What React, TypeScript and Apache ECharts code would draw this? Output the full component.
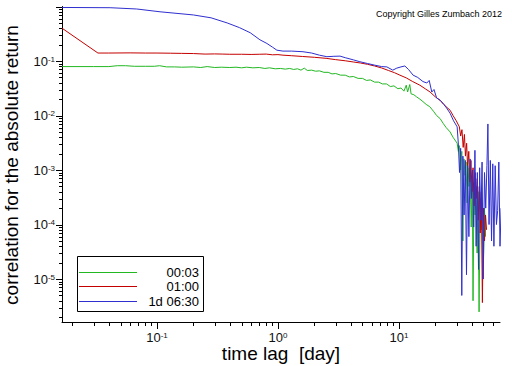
import React, { useEffect, useRef } from 'react';
import * as echarts from 'echarts';

// Axis ranges (time lag in days, correlation)
const xMin = 0.0164;
const xMax = 68.5;
const yMin = 1.63e-6;
const yMax = 1;

const xMajorTicks = [0.1, 1, 10];
const xMinorTicks = [0.02, 0.03, 0.04, 0.05, 0.06, 0.07, 0.08, 0.09, 0.2, 0.3, 0.4, 0.5, 0.6, 0.7, 0.8, 0.9, 2, 3, 4, 5, 6, 7, 8, 9, 20, 30, 40, 50, 60];
const yMajorTicks = [1e-5, 1e-4, 1e-3, 1e-2, 1e-1, 1];
const yMinorTicks = [
  2e-6, 3e-6, 4e-6, 5e-6, 6e-6, 7e-6, 8e-6, 9e-6,
  2e-5, 3e-5, 4e-5, 5e-5, 6e-5, 7e-5, 8e-5, 9e-5,
  2e-4, 3e-4, 4e-4, 5e-4, 6e-4, 7e-4, 8e-4, 9e-4,
  2e-3, 3e-3, 4e-3, 5e-3, 6e-3, 7e-3, 8e-3, 9e-3,
  2e-2, 3e-2, 4e-2, 5e-2, 6e-2, 7e-2, 8e-2, 9e-2,
  2e-1, 3e-1, 4e-1, 5e-1, 6e-1, 7e-1, 8e-1, 9e-1,
];

const seriesNames = ['00:03', '01:00', '1d 06:30'];
const seriesColors = ['#22b822', '#c40000', '#2f2fd0'];

const green: [number, number][] = [
  [0.0164, 0.079], [0.03, 0.079], [0.04, 0.079], [0.047, 0.082], [0.055, 0.082], [0.065, 0.080],
  [0.08, 0.080], [0.095, 0.080], [0.105, 0.082], [0.12, 0.078], [0.14, 0.078], [0.16, 0.077],
  [0.2, 0.078], [0.23, 0.076], [0.26, 0.079], [0.3, 0.076], [0.34, 0.077], [0.4, 0.076],
  [0.45, 0.077], [0.5, 0.075], [0.55, 0.077], [0.62, 0.075], [0.7, 0.076], [0.78, 0.073],
  [0.85, 0.075], [0.95, 0.072], [1.05, 0.073], [1.15, 0.071], [1.25, 0.073], [1.35, 0.070],
  [1.45, 0.072], [1.55, 0.068], [1.65, 0.074], [1.75, 0.067], [1.9, 0.068], [2.05, 0.065],
  [2.2, 0.066], [2.4, 0.062], [2.6, 0.062], [2.8, 0.058], [3.0, 0.059], [3.3, 0.055],
  [3.6, 0.055], [3.9, 0.051], [4.2, 0.052], [4.6, 0.048], [5.0, 0.048], [5.4, 0.044],
  [5.8, 0.045], [6.3, 0.041], [6.8, 0.041], [7.3, 0.038], [7.9, 0.038], [8.5, 0.034],
  [9.1, 0.035], [9.8, 0.031], [10.4, 0.032], [11.0, 0.028], [11.5, 0.036], [11.8, 0.027],
  [12.3, 0.037], [12.6, 0.025], [13.3, 0.024], [14.0, 0.022], [14.9, 0.020], [15.8, 0.018],
  [16.8, 0.016], [18.0, 0.0145], [19.3, 0.012], [20.5, 0.010], [21.9, 0.0088], [23.2, 0.0072],
  [24.6, 0.006], [26.5, 0.005], [28.0, 0.0040], [30.3, 0.0031],
  [31.0, 0.0022], [31.7, 0.0028], [32.4, 0.0010], [33.1, 0.0022], [33.8, 0.00005], [34.5, 0.0016],
  [35.2, 0.0008], [35.9, 0.0014], [36.6, 0.00025], [37.3, 0.0011], [38.0, 0.0005], [38.8, 0.0009],
  [39.6, 0.00009], [40.4, 0.0007], [41.0, 0.000004], [41.8, 0.0006], [42.6, 0.00015], [43.5, 0.0005],
  [44.3, 0.00003], [45.1, 0.0004], [46.0, 0.0000025], [47.0, 0.0003], [48.0, 0.00008], [49.0, 0.00025],
  [50.0, 0.00002], [51.0, 0.0002], [52.0, 0.00006],
];

const red: [number, number][] = [
  [0.0164, 0.40], [0.0325, 0.14], [0.04, 0.14], [0.06, 0.141], [0.08, 0.140], [0.1, 0.14],
  [0.13, 0.139], [0.16, 0.138], [0.2, 0.137], [0.25, 0.134], [0.3, 0.135], [0.35, 0.134],
  [0.4, 0.133], [0.5, 0.133], [0.6, 0.132], [0.7, 0.133], [0.8, 0.134], [0.9, 0.130],
  [1.0, 0.131], [1.1, 0.128], [1.3, 0.125], [1.6, 0.121], [2.0, 0.117], [2.5, 0.112],
  [3.0, 0.106], [3.6, 0.101], [4.2, 0.096], [4.8, 0.092], [5.5, 0.087], [6.3, 0.081],
  [7.2, 0.0745], [8.2, 0.067], [9.2, 0.061], [10.2, 0.055], [11.5, 0.049], [13.0, 0.042],
  [14.9, 0.036], [16.5, 0.031], [18.1, 0.027], [20.0, 0.022], [21.9, 0.019], [23.5, 0.016],
  [25.0, 0.014], [26.5, 0.0125], [28.0, 0.010], [29.8, 0.008], [31.6, 0.0062],
  [32.4, 0.0042], [33.2, 0.0055], [34.0, 0.0026], [34.8, 0.0045], [35.5, 0.0018], [36.3, 0.0031],
  [37.0, 0.0011], [37.8, 0.0022], [38.6, 0.0006], [39.4, 0.0015], [40.2, 0.0004], [41.0, 0.0011],
  [41.8, 0.00022], [42.7, 0.0009], [43.5, 0.0003], [44.4, 0.0007], [45.3, 0.00012], [46.2, 0.0005],
  [47.0, 0.00007], [48.0, 0.0004], [49.0, 0.0000037], [50.0, 0.0002], [51.0, 0.00005], [52.0, 0.00015],
  [53.0, 0.00008],
];

const blue: [number, number][] = [
  [0.0164, 0.96], [0.041, 0.95], [0.068, 0.90], [0.106, 0.80], [0.2, 0.70], [0.28, 0.62],
  [0.38, 0.50], [0.48, 0.41], [0.59, 0.33], [0.71, 0.245], [0.81, 0.21], [0.9, 0.18],
  [0.98, 0.158], [1.1, 0.152], [1.3, 0.152], [1.61, 0.148], [1.9, 0.14], [2.2, 0.128],
  [2.54, 0.12], [2.9, 0.122], [3.26, 0.123], [3.6, 0.115], [4.2, 0.105], [4.76, 0.097],
  [5.5, 0.09], [6.3, 0.084], [7.2, 0.079], [7.95, 0.078], [8.9, 0.068], [9.6, 0.074],
  [10.4, 0.078], [11.2, 0.081], [12.0, 0.07], [13.1, 0.055], [14.3, 0.05], [15.8, 0.042],
  [17.0, 0.0395], [17.8, 0.044], [18.7, 0.027], [19.5, 0.030], [20.5, 0.021], [22.0, 0.019],
  [23.5, 0.016], [24.8, 0.0137], [26.5, 0.011], [28.3, 0.008], [30.3, 0.0062],
  [31.0, 0.0030], [31.7, 0.0009], [32.4, 0.0025], [33.1, 0.000005], [33.8, 0.0018], [34.6, 0.00015],
  [35.4, 0.0015], [36.2, 0.000012], [37.0, 0.0012], [37.9, 0.00006], [38.8, 0.0016], [39.7, 0.0003],
  [40.6, 0.0010], [41.5, 0.00009], [42.5, 0.0023], [43.5, 0.00004], [44.5, 0.0009], [45.5, 0.000015],
  [46.5, 0.0011], [47.6, 0.00012], [48.7, 0.0014], [49.8, 0.00001], [51.0, 0.0009], [52.2, 0.0002],
  [53.4, 0.0012], [54.4, 0.007], [55.6, 0.0001], [57.0, 0.0015], [58.3, 0.00005], [59.7, 0.0013],
  [61.0, 0.00004], [62.5, 0.0012], [64.0, 0.0001], [65.5, 0.00018], [67.0, 0.0014], [68.5, 0.00004],
  [70.0, 0.0002],
];

const FONT = '"Liberation Sans", Arial, sans-serif';

const powLabel = (v: number) => {
  const l = Math.log10(v);
  const e = Math.round(l);
  if (Math.abs(l - e) > 1e-6) return '';
  return `{b|10}{s|${e}}`;
};

const labelRich = {
  b: { fontSize: 13, fontFamily: FONT, color: '#111', lineHeight: 12 },
  s: { fontSize: 8, fontFamily: FONT, color: '#111', verticalAlign: 'top', lineHeight: 12 },
};

export default function App() {
  const ref = useRef<HTMLDivElement>(null);
  useEffect(() => {
    const chart = echarts.init(ref.current!, null, { renderer: 'svg' });
    const xTickData = [
      ...xMajorTicks.map((v) => [v, yMin, 7]),
      ...xMinorTicks.map((v) => [v, yMin, 4]),
    ];
    const yTickData = [
      ...yMajorTicks.map((v) => [xMin, v, 6]),
      ...yMinorTicks.map((v) => [xMin, v, 3]),
    ];
    const lineSeries = [green, red, blue].map((d, i) => ({
      name: seriesNames[i],
      type: 'line',
      data: d,
      showSymbol: false,
      symbol: 'none',
      clip: false,
      lineStyle: { color: seriesColors[i], width: 1 },
      z: 2 + i,
    }));
    const option: any = {
      animation: false,
      backgroundColor: '#fff',
      grid: { left: 62, right: 12, top: 6.5, bottom: 44, containLabel: false },
      xAxis: {
        type: 'log',
        logBase: 10,
        min: xMin,
        max: xMax,
        axisLine: { show: true, lineStyle: { color: '#000', width: 1 } },
        axisTick: { show: false },
        splitLine: { show: false },
        axisLabel: {
          margin: 9,
          showMinLabel: false,
          showMaxLabel: false,
          formatter: powLabel,
          rich: labelRich,
        },
      },
      yAxis: {
        type: 'log',
        logBase: 10,
        min: yMin,
        max: yMax,
        axisLine: { show: true, lineStyle: { color: '#000', width: 1 } },
        axisTick: { show: false },
        splitLine: { show: false },
        axisLabel: {
          margin: 7,
          showMinLabel: false,
          showMaxLabel: false,
          formatter: powLabel,
          rich: labelRich,
        },
      },
      series: [
        ...lineSeries,
        {
          type: 'custom',
          clip: false,
          silent: true,
          encode: { x: 0, y: 1 },
          data: xTickData,
          z: 10,
          renderItem: (_p: any, api: any) => {
            const pt = api.coord([api.value(0), api.value(1)]);
            const x = Math.round(pt[0]) + 0.5;
            const y = Math.round(pt[1]);
            return {
              type: 'line',
              shape: { x1: x, y1: y, x2: x, y2: y + api.value(2) },
              style: { stroke: '#000', lineWidth: 1 },
            };
          },
        },
        {
          type: 'custom',
          clip: false,
          silent: true,
          encode: { x: 0, y: 1 },
          data: yTickData,
          z: 10,
          renderItem: (_p: any, api: any) => {
            const pt = api.coord([api.value(0), api.value(1)]);
            const x = Math.round(pt[0]);
            const y = Math.round(pt[1]) + 0.5;
            return {
              type: 'line',
              shape: { x1: x - api.value(2), y1: y, x2: x, y2: y },
              style: { stroke: '#000', lineWidth: 1 },
            };
          },
        },
      ],
      graphic: [
        {
          type: 'text',
          x: 281,
          y: 353.5,
          style: {
            text: 'time lag  [day]',
            font: `19px ${FONT}`,
            fill: '#000',
            align: 'center',
            verticalAlign: 'middle',
          },
        },
        {
          type: 'text',
          x: 11,
          y: 165,
          rotation: Math.PI / 2,
          style: {
            text: 'correlation for the absolute return',
            font: `19px ${FONT}`,
            fill: '#000',
            align: 'center',
            verticalAlign: 'middle',
          },
        },
        {
          type: 'text',
          x: 502,
          y: 13.5,
          style: {
            text: 'Copyright Gilles Zumbach 2012',
            font: `9px ${FONT}`,
            fill: '#000',
            align: 'right',
            verticalAlign: 'middle',
          },
        },
        {
          type: 'group',
          z: 100,
          children: [
            {
              type: 'rect',
              shape: { x: 77.5, y: 256.5, width: 126, height: 55 },
              style: { fill: '#fff', stroke: '#000', lineWidth: 1 },
            },
            ...seriesNames.flatMap((name, i) => {
              const ys = [272.5, 286.5, 301.5][i];
              return [
                {
                  type: 'line',
                  shape: { x1: 79, y1: ys, x2: 137, y2: ys },
                  style: { stroke: seriesColors[i], lineWidth: 1 },
                },
                {
                  type: 'text',
                  x: 199,
                  y: ys,
                  style: {
                    text: name,
                    font: `13px ${FONT}`,
                    fill: '#000',
                    align: 'right',
                    verticalAlign: 'middle',
                  },
                },
              ];
            }),
          ],
        },
      ],
    };
    chart.setOption(option);
    return () => chart.dispose();
  }, []);
  return (
    <div
      ref={ref}
      style={{ position: 'fixed', left: 0, top: 0, width: 512, height: 366, background: '#fff' }}
    />
  );
}
